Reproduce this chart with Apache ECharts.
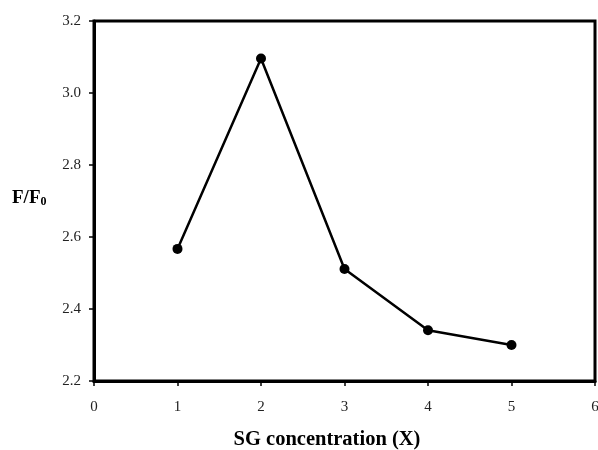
<!DOCTYPE html>
<html><head><meta charset="utf-8">
<script src="https://cdn.jsdelivr.net/npm/echarts@6/dist/echarts.min.js"></script>
<style>html,body{margin:0;padding:0;background:#fff}#c{width:598px;height:450px}</style>
</head><body><div id="c"></div>
<script>
const xValues = [1, 2, 3, 4, 5];
const yValues = [2.567, 3.096, 2.511, 2.341, 2.30];
const xTitle = 'SG concentration (X)';
const yTitle = 'F/F';
const yTitleSub = '0';

const chart = echarts.init(document.getElementById('c'), null, {renderer: 'canvas'});
const font = '"Liberation Serif", "Times New Roman", serif';
chart.setOption({
  animation: false,
  backgroundColor: '#fff',
  grid: {left: 94, right: 3, top: 21, bottom: 69, show: true, borderColor: '#000', borderWidth: 3,
         containLabel: false, outerBoundsMode: 'none'},
  xAxis: {
    type: 'value', min: 0, max: 6, interval: 1,
    axisLine: {lineStyle: {color: '#000', width: 3}},
    axisTick: {show: true, inside: false, length: 5, lineStyle: {color: '#000', width: 1.5}},
    axisLabel: {color: '#222', fontFamily: font, fontSize: 15, margin: 19},
    splitLine: {show: false}
  },
  yAxis: {
    type: 'value', min: 2.2, max: 3.2, interval: 0.2,
    axisLine: {show: true, lineStyle: {color: '#000', width: 3}},
    axisTick: {show: true, inside: false, length: 5, lineStyle: {color: '#000', width: 1.5}},
    axisLabel: {color: '#222', fontFamily: font, fontSize: 15, margin: 13, formatter: v => v.toFixed(1)},
    splitLine: {show: false}
  },
  graphic: [
    {type: 'text', left: 12, top: 189, style: {
      text: '{a|' + yTitle + '}{b|' + yTitleSub + '}',
      rich: {
        a: {fontFamily: font, fontSize: 19, fontWeight: 'bold', fill: '#000'},
        b: {fontFamily: font, fontSize: 12, fontWeight: 'bold', fill: '#000', padding: [7, 0, 0, 0]}
      }
    }},
    {type: 'text', x: 327, y: 440, style: {
      text: xTitle, fontFamily: font, fontSize: 20.5, fontWeight: 'bold', fill: '#000',
      align: 'center', verticalAlign: 'middle'
    }}
  ],
  series: [{
    type: 'line',
    data: xValues.map((x, i) => [x, yValues[i]]),
    symbol: 'circle', symbolSize: 10,
    lineStyle: {color: '#000', width: 2.5},
    itemStyle: {color: '#000'}
  }]
});
</script></body></html>
